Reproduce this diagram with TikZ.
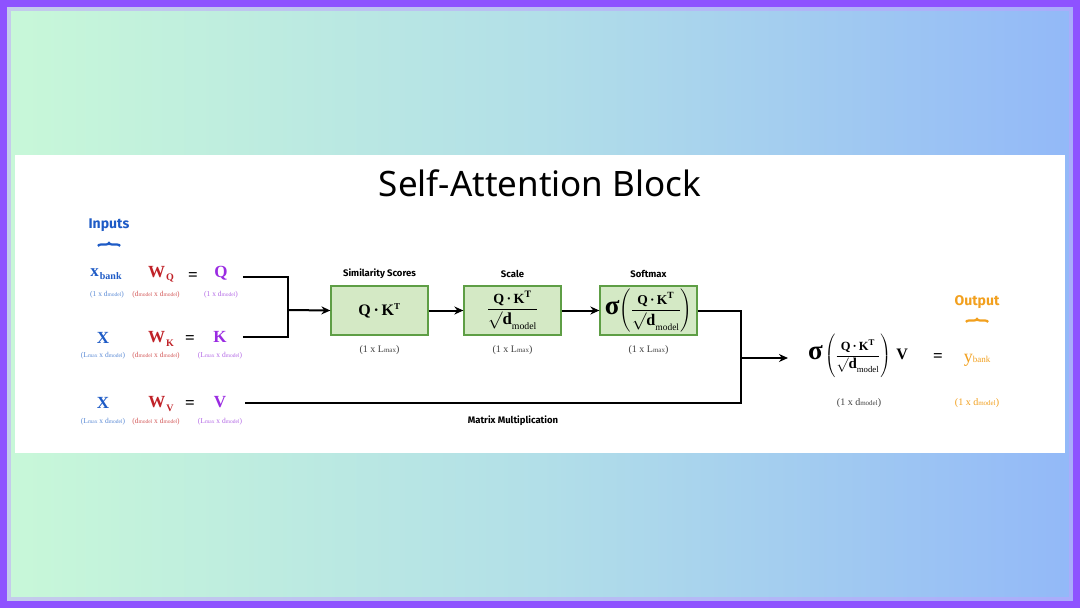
\documentclass[tikz,border=0pt]{standalone}
\usepackage{amsmath}
\usepackage{fontspec}
\setmainfont{Liberation Serif}
\setsansfont{Fira Sans}
\newfontfamily\titlefont{Noto Sans}
\usetikzlibrary{arrows.meta,decorations.pathreplacing,positioning}
\definecolor{xblue}{HTML}{1E5BC6}
\definecolor{wred}{HTML}{C02228}
\definecolor{qpur}{HTML}{9A2BE2}
\definecolor{dblue}{HTML}{5B8BD6}
\definecolor{dred}{HTML}{D45A5A}
\definecolor{dpur}{HTML}{B46AE6}
\definecolor{outor}{HTML}{F2A01E}
\definecolor{boxfill}{HTML}{D4E9C5}
\definecolor{boxline}{HTML}{5E9E45}
\definecolor{frame}{HTML}{8E52FF}
\definecolor{bgl}{HTML}{C8F8D8}
\definecolor{bgm}{HTML}{B2DFE8}
\definecolor{bgr}{HTML}{92B8F8}
\newcommand{\msm}[1]{{\fontsize{5.5}{5.5}\selectfont #1}}
\newcommand{\lsm}[1]{{\fontsize{7}{7}\selectfont #1}}
\newcommand{\bigvar}[2]{{\fontsize{17}{17}\selectfont\bfseries #1}\kern1pt\raisebox{-3.5pt}{\fontsize{10}{10}\selectfont\bfseries #2}}
\newcommand{\fracQK}{\dfrac{\textbf{Q\,·\,K}^{\textbf{T}}}{\text{\fontsize{1.2em}{1.2em}\selectfont$\surd$\bfseries d}_{\text{model}}}}
\newcommand{\softfrac}{\left(\vrule height 18pt depth 18pt width 0pt\fracQK\right)}
\newcommand{\bigsig}{\text{\fontsize{27}{27}\selectfont\bfseries σ}}
\begin{document}
\begin{tikzpicture}[x=1pt,y=-1pt,
  var/.style={inner sep=0pt, anchor=center},
  dimtxt/.style={inner sep=0pt, font=\fontsize{7.5}{7.5}\selectfont},
  stagedim/.style={inner sep=0pt, font=\fontsize{10}{10}\selectfont, text=black!75},
  stagebox/.style={draw=boxline, fill=boxfill, line width=1.3pt, minimum width=97pt, minimum height=49pt, inner sep=0pt},
  stagelabel/.style={font=\sffamily\bfseries\fontsize{9.5}{9.5}\selectfont, inner sep=0pt},
  link/.style={draw, line width=2pt},
  arr/.style={draw, line width=2pt, -{Stealth[length=9pt,width=8pt]}},
  side/.style={font=\sffamily\bfseries\fontsize{14}{14}\selectfont, inner sep=0pt},
  brc/.style={decorate, decoration={brace, amplitude=3pt}, line width=2.2pt}
]
\useasboundingbox (0,0) rectangle (1080,608);
\shade[left color=bgl, right color=bgr, middle color=bgm] (0,0) rectangle (1080,608);
\draw[frame!55, line width=22pt, opacity=0.5] (0,0) rectangle (1080,608);
\draw[frame, line width=14pt] (0,0) rectangle (1080,608);
\fill[white] (15,155) rectangle (1065,453);

\node[inner sep=0pt, font=\titlefont\fontsize{35}{35}\selectfont] (title) at (540,183) {Self-Attention Block};

% inputs
\node[side, text=xblue] (inputs) at (109,225) {Inputs};
\coordinate (ib1) at (98,246);
\coordinate (ib2) at (120,246);
\draw[brc, xblue] (ib1) -- (ib2);

% row 1
\node[var, text=xblue] (xb) at (106,274) {\bigvar{x}{bank}};
\node[var, text=wred] (wq) at (161,274) {\bigvar{W}{Q}};
\node[var] (eq1) at (193,277) {\fontsize{17}{17}\selectfont\bfseries =};
\node[var, text=qpur] (Q) at (221,273) {\fontsize{17}{17}\selectfont\bfseries Q};
\node[dimtxt, text=dblue] (dx1) at (107,295) {(1 x d\msm{model})};
\node[dimtxt, text=dred] (dw1) at (156,295) {(d\msm{model} x d\msm{model})};
\node[dimtxt, text=dpur] (dq1) at (221,295) {(1 x d\msm{model})};

% row 2
\node[var, text=xblue] (x2) at (103,338) {\fontsize{17}{17}\selectfont\bfseries X};
\node[var, text=wred] (wk) at (161,339) {\bigvar{W}{K}};
\node[var] (eq2) at (190,340) {\fontsize{17}{17}\selectfont\bfseries =};
\node[var, text=qpur] (K) at (220,337) {\fontsize{17}{17}\selectfont\bfseries K};
\node[dimtxt, text=dblue] (dx2) at (103,356) {(L\msm{max} x d\msm{model})};
\node[dimtxt, text=dred] (dw2) at (156,356) {(d\msm{model} x d\msm{model})};
\node[dimtxt, text=dpur] (dk2) at (220,356) {(L\msm{max} x d\msm{model})};

% row 3
\node[var, text=xblue] (x3) at (103,403) {\fontsize{17}{17}\selectfont\bfseries X};
\node[var, text=wred] (wv) at (161,404) {\bigvar{W}{V}};
\node[var] (eq3) at (190,405) {\fontsize{17}{17}\selectfont\bfseries =};
\node[var, text=qpur] (V) at (220,402) {\fontsize{17}{17}\selectfont\bfseries V};
\node[dimtxt, text=dblue] (dx3) at (103,422) {(L\msm{max} x d\msm{model})};
\node[dimtxt, text=dred] (dw3) at (156,422) {(d\msm{model} x d\msm{model})};
\node[dimtxt, text=dpur] (dv3) at (220,422) {(L\msm{max} x d\msm{model})};

% stages
\node[stagebox] (b1) at (379.5,310.5) {\fontsize{16}{16}\selectfont\bfseries Q\,·\,K\textsuperscript{\fontsize{9}{9}\selectfont T}};
\node[stagebox] (b2) at (512.5,310.5) {\fontsize{14}{14}\selectfont$\fracQK$};
\node[stagebox] (b3) at (648.5,310.5) {\fontsize{13.5}{13.5}\selectfont$\bigsig\!\softfrac$};
\node[stagelabel, above=7pt of b1.north, anchor=south] (l1) {Similarity Scores};
\node[stagelabel, above=7pt of b2.north, anchor=south] (l2) {Scale};
\node[stagelabel, above=7pt of b3.north, anchor=south] (l3) {Softmax};
\node[stagedim] (s1) at (379.5,350) {(1 x L\lsm{max})};
\node[stagedim] (s2) at (512.5,350) {(1 x L\lsm{max})};
\node[stagedim] (s3) at (648.5,350) {(1 x L\lsm{max})};

% result
\node[var] (res) at (858,356) {\fontsize{12.5}{12.5}\selectfont$\bigsig\softfrac\;\text{\fontsize{16}{16}\selectfont\bfseries V}$};
\node[var] (eq4) at (938,358) {\fontsize{17}{17}\selectfont\bfseries =};
\node[var, text=outor] (yb) at (977,360) {{\fontsize{18}{18}\selectfont y}{\fontsize{9}{9}\selectfont bank}};
\node[stagedim] (dres) at (859,403) {(1 x d\lsm{model})};
\node[stagedim, text=outor] (dy) at (977,403) {(1 x d\lsm{model})};
\node[side, text=outor] (output) at (977,302) {Output};
\coordinate (ob1) at (966,322);
\coordinate (ob2) at (988,322);
\draw[brc, outor] (ob1) -- (ob2);

\node[stagelabel] (mm) at (513,421) {Matrix Multiplication};

% connectors
\coordinate (j1) at (288,310);
\coordinate (j2) at (741,358);
\draw[link] ([shift={(15,4)}]Q.east) -| (j1);
\draw[link] ([shift={(16,0)}]K.east) -| (j1);
\draw[arr] (j1) -- (b1.west);
\draw[arr] (b1) -- (b2);
\draw[arr] (b2) -- (b3);
\draw[link] (b3.east) -| (j2);
\draw[link] ([shift={(19,1)}]V.east) -| (j2);
\draw[arr, shorten >=20pt] (j2) -- (j2 -| res.west);
\end{tikzpicture}
\end{document}
